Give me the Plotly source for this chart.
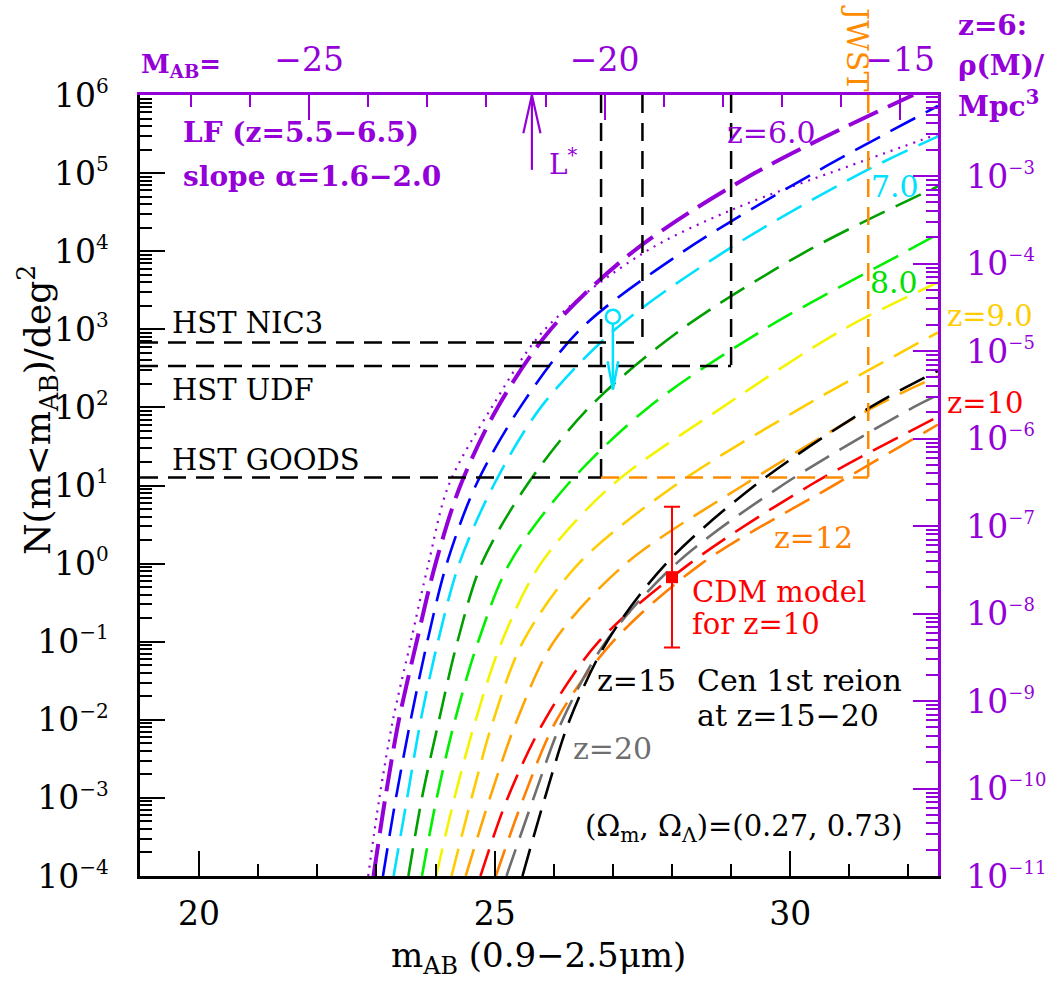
import numpy as np
import plotly.graph_objects as go

# ---------------- data ----------------
# cumulative counts: m_AB positions and log10 N(<m)/deg^2
m_z60_a16 = [22.86, 23.05, 23.28, 23.58, 23.88, 24.22, 24.95, 25.85, 27.5, 29.01, 31.29, 32.5]
lg_z60_a16 = [-4, -3, -2, -1, 0, 1, 2, 3, 3.97, 4.53, 5.17, 5.5]

m_z60 = [22.95, 23.15, 23.38, 23.68, 24.0, 24.42, 25.05, 25.95, 27.35, 29.4, 32.08]
lg_z60 = [-4, -3, -2, -1, 0, 1, 2, 3, 4, 5, 6]

m_z65 = [23.11, 23.33, 23.58, 23.86, 24.19, 24.68, 25.43, 26.45, 28.2, 30.4, 32.5]
lg_z65 = [-4, -3, -2, -1, 0, 1, 2, 3, 4, 5, 5.86]

m_z70 = [23.29, 23.52, 23.75, 24.04, 24.40, 24.98, 25.78, 27.04, 28.9, 31.2, 32.5]
lg_z70 = [-4, -3, -2, -1, 0, 1, 2, 3, 4, 5, 5.47]

m_z75 = [23.54, 23.77, 24.06, 24.37, 24.78, 25.54, 26.6, 28.16, 30.28, 32.5]
lg_z75 = [-4, -3, -2, -1, 0, 1, 2, 3, 4, 4.83]

m_z80 = [23.77, 24.02, 24.33, 24.72, 25.25, 26.22, 27.6, 29.56, 31.97, 32.5]
lg_z80 = [-4, -3, -2, -1, 0, 1, 2, 3, 4, 4.22]

m_z85 = [24.01, 24.32, 24.68, 25.12, 25.78, 26.98, 28.85, 30.9, 32.5]
lg_z85 = [-4, -3, -2, -1, 0, 1, 2, 3, 3.6]

m_z90 = [24.27, 24.61, 24.98, 25.48, 26.42, 28.05, 30.2, 32.5]
lg_z90 = [-4, -3, -2, -1, 0, 1, 2, 2.96]

m_z95 = [24.51, 24.92, 25.38, 26.0, 27.22, 29.2, 31.4, 32.5]
lg_z95 = [-4, -3, -2, -1, 0, 1, 2, 2.4]

m_z10 = [24.76, 25.22, 25.85, 26.76, 28.3, 30.33, 32.5]
lg_z10 = [-4, -3, -2, -1, 0, 1, 1.88]

m_z12 = [25.02, 25.49, 26.05, 27.0, 28.5, 30.73, 32.5]
lg_z12 = [-4, -3, -2, -1, 0, 1, 1.78]

m_z20 = [25.20, 25.66, 26.15, 26.88, 28.07, 29.86, 32.08, 32.5]
lg_z20 = [-4, -3, -2, -1, 0, 1, 2, 2.16]

m_z15 = [25.47, 25.85, 26.27, 26.9, 27.9, 29.4, 31.35, 32.5]
lg_z15 = [-4, -3, -2, -1, 0, 1, 2, 2.47]

# survey depth limits
hst_names = ["HST NIC3", "HST UDF", "HST GOODS"]
hst_mag_limit = [27.5, 29.0, 26.8]
hst_N_limit = [680.0, 340.0, 12.7]
jwst_mag_limit = 31.32
jwst_N_limit = 12.7

# CDM model point for z=10
cdm_m = [28.0]
cdm_N = [0.67]
cdm_N_hi = [5.35]
cdm_N_lo = [0.084]

# cyan upper-limit symbol
lim_m = [27.0]
lim_N = [1450.0]
lim_N_end = [170.0]

# L* position on the absolute-magnitude axis
Lstar_M = -21.23
Lstar_N_bottom = 1.1e5

# axes
M_OFFSET = 46.86          # M_AB = m_AB - M_OFFSET (top axis)
x_ticks = [20, 25, 30]
top_ticks = [-25, -20, -15]
left_decades = list(range(-4, 7))
right_decades = list(range(-11, -2))
right_range = [-11, -2.074]

# ---------------- styles ----------------
PURPLE = "#9400d8"
CYAN = "#00e0ff"
DKORANGE = "#ff8000"
FONT = "DejaVu Serif"

curves = [
    (m_z60_a16, lg_z60_a16, PURPLE, 2.2, "2px,6px"),
    (m_z60, lg_z60, PURPLE, 4.0, "32px,11px"),
    (m_z65, lg_z65, "#0000ff", 2.6, "28px,12px"),
    (m_z70, lg_z70, CYAN, 2.6, "28px,12px"),
    (m_z75, lg_z75, "#00a000", 2.6, "28px,12px"),
    (m_z80, lg_z80, "#00f000", 2.6, "28px,12px"),
    (m_z85, lg_z85, "#f4f400", 2.6, "28px,12px"),
    (m_z90, lg_z90, "#ffcc00", 2.6, "28px,12px"),
    (m_z95, lg_z95, "#ffa500", 2.6, "28px,12px"),
    (m_z10, lg_z10, "#ff0000", 2.6, "28px,12px"),
    (m_z12, lg_z12, DKORANGE, 2.6, "28px,12px"),
    (m_z20, lg_z20, "#6e6e6e", 2.6, "28px,12px"),
    (m_z15, lg_z15, "#000000", 2.6, "28px,12px"),
]

fig = go.Figure()

for m, lg, col, w, dash in curves:
    fig.add_trace(go.Scatter(
        x=m, y=10 ** np.array(lg, dtype=float), mode="lines",
        line=dict(color=col, width=w, dash=dash, shape="spline", smoothing=0.9),
        hoverinfo="skip", showlegend=False))

# HST survey boxes
BLACK_DASH = "18px,10px"
for name, ml, nl in zip(hst_names, hst_mag_limit, hst_N_limit):
    fig.add_trace(go.Scatter(x=[19, ml], y=[nl, nl], mode="lines",
                             line=dict(color="black", width=2.5, dash=BLACK_DASH),
                             hoverinfo="skip", showlegend=False))
    fig.add_trace(go.Scatter(x=[ml, ml], y=[1e6, nl], mode="lines",
                             line=dict(color="black", width=2.5, dash=BLACK_DASH),
                             hoverinfo="skip", showlegend=False))
# JWST
fig.add_trace(go.Scatter(x=[hst_mag_limit[2], jwst_mag_limit], y=[jwst_N_limit, jwst_N_limit],
                         mode="lines", line=dict(color="#ff8c00", width=2.5, dash=BLACK_DASH),
                         hoverinfo="skip", showlegend=False))
fig.add_trace(go.Scatter(x=[jwst_mag_limit, jwst_mag_limit], y=[1e6, jwst_N_limit],
                         mode="lines", line=dict(color="#ff8c00", width=2.5, dash=BLACK_DASH),
                         hoverinfo="skip", showlegend=False))

# CDM point with error bar
fig.add_trace(go.Scatter(
    x=cdm_m, y=cdm_N, mode="markers",
    marker=dict(symbol="square", size=12, color="red"),
    error_y=dict(type="data", symmetric=False,
                 array=[h - v for h, v in zip(cdm_N_hi, cdm_N)],
                 arrayminus=[v - l for v, l in zip(cdm_N, cdm_N_lo)],
                 color="red", thickness=2, width=8),
    hoverinfo="skip", showlegend=False))

# cyan upper limit (circle + arrow)
circ_off = 0.09
head_dx, head_dl = 0.09, 0.36
fig.add_trace(go.Scatter(x=lim_m, y=lim_N, mode="markers",
                         marker=dict(symbol="circle-open", size=14, color=CYAN, line=dict(width=2.5)),
                         hoverinfo="skip", showlegend=False))
fig.add_trace(go.Scatter(x=[lim_m[0], lim_m[0]],
                         y=[10 ** (np.log10(lim_N[0]) - circ_off), lim_N_end[0]],
                         mode="lines", line=dict(color=CYAN, width=2.5),
                         hoverinfo="skip", showlegend=False))
yh = 10 ** (np.log10(lim_N_end[0]) + head_dl)
fig.add_trace(go.Scatter(x=[lim_m[0] - head_dx, lim_m[0], lim_m[0] + head_dx],
                         y=[yh, lim_N_end[0], yh], mode="lines",
                         line=dict(color=CYAN, width=2.5),
                         hoverinfo="skip", showlegend=False))

# L* arrow on the top (absolute magnitude) axis
fig.add_trace(go.Scatter(x=[Lstar_M, Lstar_M], y=[Lstar_N_bottom, 1e6], mode="lines",
                         line=dict(color=PURPLE, width=2.2), xaxis="x2", yaxis="y",
                         hoverinfo="skip", showlegend=False))
yl = 10 ** (6 - 0.49)
fig.add_trace(go.Scatter(x=[Lstar_M - 0.145, Lstar_M, Lstar_M + 0.145], y=[yl, 1e6, yl],
                         mode="lines", line=dict(color=PURPLE, width=2.2), xaxis="x2", yaxis="y",
                         hoverinfo="skip", showlegend=False))

# invisible trace to activate the right axis
fig.add_trace(go.Scatter(x=[25], y=[1e-6], mode="markers", marker=dict(opacity=0),
                         xaxis="x", yaxis="y2", hoverinfo="skip", showlegend=False))

# ---------------- layout ----------------
L, R, T, B = 140, 121, 95, 105
W, H = 1059, 981
PW, PH = W - L - R, H - T - B


def px(xp, yp):
    return (xp - L) / PW, (H - B - yp) / PH


annots = []


def note(text, xp, yp, color="black", size=30, xanchor="left", bold=False, angle=0):
    x, y = px(xp, yp)
    if bold:
        text = "<b>" + text + "</b>"
    annots.append(dict(text=text, x=x, y=y, xref="paper", yref="paper",
                       xanchor=xanchor, yanchor="middle", showarrow=False,
                       textangle=angle,
                       font=dict(family=FONT, size=size, color=color)))


note("LF (z=5.5−6.5)", 181, 133, PURPLE, 28, bold=True)
note("slope α=1.6−2.0", 181, 176, PURPLE, 28, bold=True)
note("z=6.0", 771, 133, PURPLE, 30, "center")
note("7.0", 895, 186, CYAN, 30, "center")
note("8.0", 894, 282, "#00e000", 30, "center")
note("z=9.0", 990, 316, "#ffcc00", 29, "center")
note("z=10", 985, 403, "red", 29, "center")
note("z=12", 813, 537, DKORANGE, 30, "center")
note("CDM model", 690, 592, "red", 29)
note("for z=10", 690, 624, "red", 29)
note("z=15", 595, 680, "black", 30)
note("Cen 1st reion", 695, 680, "black", 30)
note("at z=15−20", 695, 715, "black", 30)
note("z=20", 571, 748, "#6e6e6e", 30)
note("(Ω<sub>m</sub>, Ω<sub>Λ</sub>)=(0.27, 0.73)", 583, 828, "black", 29)
note("HST NIC3", 170, 323, "black", 29)
note("HST UDF", 170, 390, "black", 29)
note("HST GOODS", 170, 460, "black", 29)
note("L<sup>*</sup>", 547, 162, PURPLE, 28)
note("JWST", 858, 48, "#ff8c00", 30, "center", angle=90)
note("M<sub>AB</sub>=", 139, 65, PURPLE, 26, bold=True)
note("z=6:", 956, 26, PURPLE, 28, bold=True)
note("ρ(M)/", 956, 66, PURPLE, 28, bold=True)
note("Mpc<sup>3</sup>", 956, 105, PURPLE, 28, bold=True)
note("N(m&lt;m<sub>AB</sub>)/deg<sup>2</sup>", 38, 410, "black", 36, "center", angle=-90)
note("m<sub>AB</sub> (0.9−2.5μm)", 538, 958, "black", 34, "center")

minor_left = [d * 10.0 ** k for k in range(-4, 6) for d in range(2, 10)]
minor_right = [d * 10.0 ** k for k in range(-12, -2) for d in range(2, 10)]


def pow_label(k, sz):
    s = str(k) if k >= 0 else "−" + str(-k)
    return "10<sup><span style='font-size:%dpx'>%s</span></sup>" % (sz, s)


TICKFONT = 33

fig.update_layout(
    width=W, height=H, margin=dict(l=L, r=R, t=T, b=B, pad=0, autoexpand=False),
    paper_bgcolor="white", plot_bgcolor="white", showlegend=False,
    font=dict(family=FONT, color="black"),
    annotations=annots,
    xaxis=dict(range=[19, 32.5], tickmode="array", tickvals=x_ticks,
               ticktext=[str(v) for v in x_ticks], automargin=False,
               ticks="inside", ticklen=25, tickwidth=2, tickcolor="black",
               showline=True, linecolor="black", linewidth=2.5, mirror=False,
               showgrid=False, zeroline=False, ticklabelstandoff=7,
               tickfont=dict(family=FONT, size=TICKFONT, color="black"),
               minor=dict(tickmode="array", tickvals=list(range(19, 33)), ticks="inside",
                          ticklen=12, tickwidth=2, tickcolor="black", showgrid=False)),
    xaxis2=dict(range=[19 - M_OFFSET, 32.5 - M_OFFSET], overlaying="x", side="top", anchor="y",
                tickmode="array", tickvals=top_ticks, automargin=False,
                ticktext=["−" + str(abs(v)) for v in top_ticks],
                ticks="inside", ticklen=25, tickwidth=2, tickcolor=PURPLE,
                showline=True, linecolor=PURPLE, linewidth=2.5,
                showgrid=False, zeroline=False, ticklabelstandoff=8,
                tickfont=dict(family=FONT, size=TICKFONT, color=PURPLE),
                minor=dict(tickmode="array", tickvals=list(range(-28, -14)), ticks="inside",
                           ticklen=12, tickwidth=2, tickcolor=PURPLE, showgrid=False)),
    yaxis=dict(type="log", range=[-4, 6], tickmode="array", automargin=False,
               tickvals=[10.0 ** k for k in left_decades],
               ticktext=[pow_label(k, 20) for k in left_decades],
               ticks="inside", ticklen=25, tickwidth=2, tickcolor="black",
               showline=True, linecolor="black", linewidth=2.5,
               showgrid=False, zeroline=False, ticklabelstandoff=22,
               tickfont=dict(family=FONT, size=TICKFONT, color="black"),
               minor=dict(tickmode="array", tickvals=minor_left, ticks="inside",
                          ticklen=12, tickwidth=1.5, tickcolor="black", showgrid=False)),
    yaxis2=dict(type="log", range=right_range, overlaying="y", side="right", anchor="x",
                tickmode="array", tickvals=[10.0 ** k for k in right_decades], automargin=False,
                ticktext=[pow_label(k, 18) for k in right_decades],
                ticks="inside", ticklen=25, tickwidth=2, tickcolor=PURPLE,
                showline=True, linecolor=PURPLE, linewidth=2.5,
                showgrid=False, zeroline=False, ticklabelstandoff=19,
                tickfont=dict(family=FONT, size=TICKFONT, color=PURPLE),
                minor=dict(tickmode="array", tickvals=minor_right, ticks="inside",
                           ticklen=12, tickwidth=1.5, tickcolor=PURPLE, showgrid=False)),
)

fig.write_html("out.html", config={"displayModeBar": False},
               post_script="document.body.style.margin='0px';")
